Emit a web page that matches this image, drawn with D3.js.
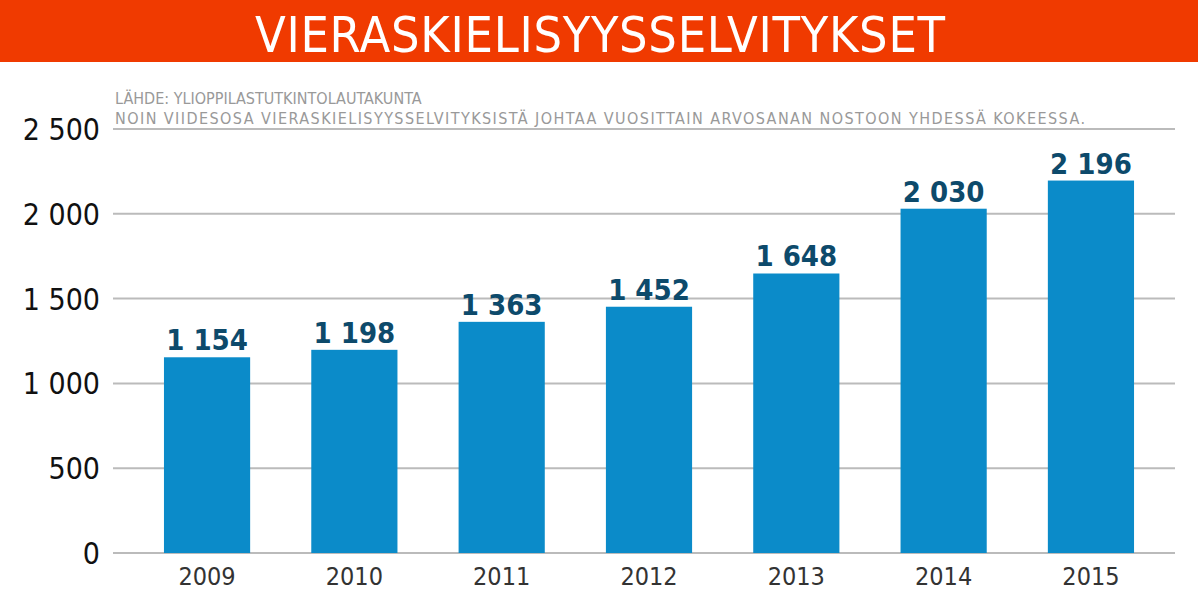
<!DOCTYPE html>
<html><head><meta charset="utf-8">
<script src="https://cdn.jsdelivr.net/npm/d3@7"></script>
<style>body{margin:0;background:#fff}</style>
</head><body>
<svg width="1198" height="598"></svg>
<script>
const years = ["2009","2010","2011","2012","2013","2014","2015"];
const counts = [1154,1198,1363,1452,1648,2030,2196];
const yTicks = [0,500,1000,1500,2000,2500];

const svg = d3.select("svg");
const font = "'DejaVu Sans Condensed', 'Roboto', sans-serif";

svg.append("rect").attr("width",1198).attr("height",62).attr("fill","#f03a00");
svg.append("text").attr("x",600).attr("y",52).attr("text-anchor","middle")
  .attr("fill","#fff").style("font-family",font).style("font-size","50px")
  .attr("textLength",690).text("VIERASKIELISYYSSELVITYKSET");

svg.append("text").attr("x",115).attr("y",104).attr("fill","#999")
  .style("font-family",font).style("font-size","16px").text("LÄHDE: YLIOPPILASTUTKINTOLAUTAKUNTA");
svg.append("text").attr("x",115).attr("y",124).attr("fill","#999")
  .style("font-family",font).style("font-size","16px")
  .attr("textLength",970).text("NOIN VIIDESOSA VIERASKIELISYYSSELVITYKSISTÄ JOHTAA VUOSITTAIN ARVOSANAN NOSTOON YHDESSÄ KOKEESSA.");

const y = d3.scaleLinear().domain([0,2500]).range([553,129]);
const x = d3.scaleBand().domain(years).range([134.5,1163.5]).paddingInner(0.415).paddingOuter(0.2);

svg.append("g").selectAll("line").data(yTicks).join("line")
  .attr("x1",113).attr("x2",1175).attr("y1",d=>y(d)).attr("y2",d=>y(d))
  .attr("stroke","#bbb").attr("stroke-width",2);

svg.append("g").selectAll("text").data(yTicks).join("text")
  .attr("x",100).attr("y",d=>y(d)+11).attr("text-anchor","end")
  .style("font-family",font).style("font-size","30px").attr("fill","#111")
  .text(d=>d3.format(",")(d).replace(/,/g," "));

svg.append("g").selectAll("rect").data(counts).join("rect")
  .attr("x",(d,i)=>x(years[i])).attr("width",x.bandwidth())
  .attr("y",d=>y(d)).attr("height",d=>y(0)-y(d)).attr("fill","#0b8bc9");

svg.append("g").selectAll("text").data(counts).join("text")
  .attr("x",(d,i)=>x(years[i])+x.bandwidth()/2).attr("y",d=>y(d)-7)
  .attr("text-anchor","middle").style("font-family",font).style("font-weight","bold")
  .style("font-size","29px").attr("fill","#0d4a6b")
  .text(d=>d3.format(",")(d).replace(/,/g," "));

svg.append("g").selectAll("text").data(years).join("text")
  .attr("x",d=>x(d)+x.bandwidth()/2).attr("y",585).attr("text-anchor","middle")
  .style("font-family",font).style("font-size","25px").attr("fill","#333").text(d=>d);
</script>
</body></html>
